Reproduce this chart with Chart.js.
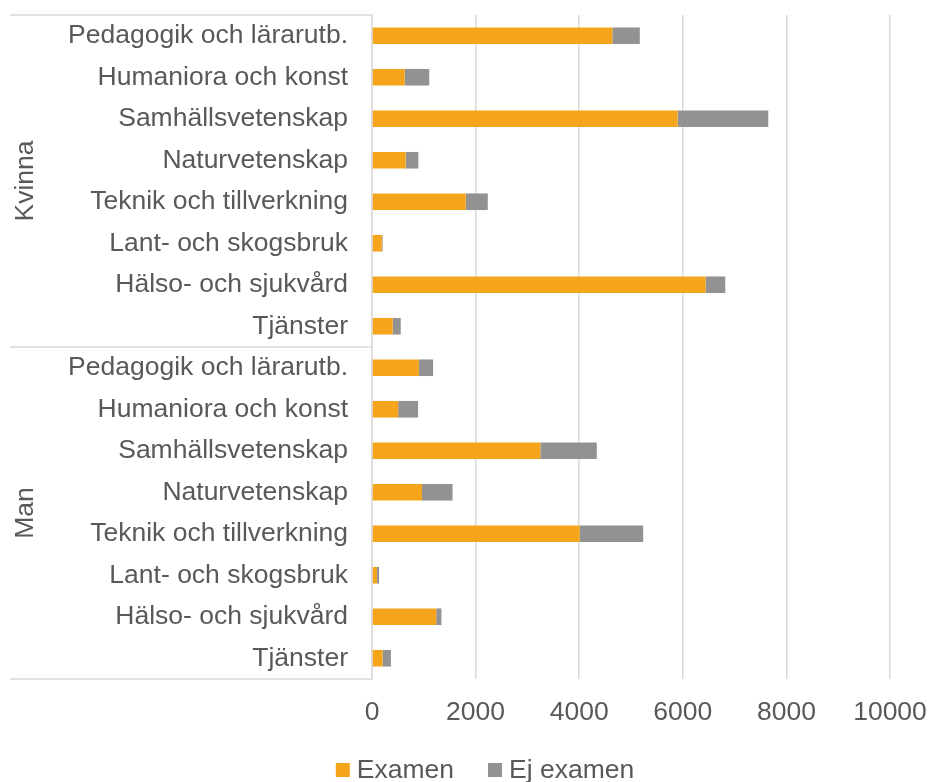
<!DOCTYPE html>
<html>
<head>
<meta charset="utf-8">
<script src="https://cdn.jsdelivr.net/npm/chart.js@4/dist/chart.umd.min.js"></script>
<style>
  html, body { margin: 0; padding: 0; background: #ffffff; }
  #wrap { width: 928px; height: 782px; }
</style>
</head>
<body>
<div id="wrap"><canvas id="c" width="928" height="782"></canvas></div>
<script>
const categories = [
  "Pedagogik och lärarutb.", "Humaniora och konst", "Samhällsvetenskap", "Naturvetenskap",
  "Teknik och tillverkning", "Lant- och skogsbruk", "Hälso- och sjukvård", "Tjänster",
  "Pedagogik och lärarutb.", "Humaniora och konst", "Samhällsvetenskap", "Naturvetenskap",
  "Teknik och tillverkning", "Lant- och skogsbruk", "Hälso- och sjukvård", "Tjänster"
];
const groups = ["Kvinna", "Man"];
const groupSizes = [8, 8];
const examen = [4640, 630, 5900, 650, 1810, 190, 6440, 400,
                905, 505, 3250, 965, 4010, 95, 1240, 205];
const ejExamen = [530, 475, 1750, 245, 425, 15, 380, 155,
                  275, 385, 1090, 590, 1225, 40, 100, 160];
const seriesNames = ["Examen", "Ej examen"];
const xTicks = [0, 2000, 4000, 6000, 8000, 10000];

const textColor = "#595959";
const lineColor = "#d9d9d9";
const fontFamily = "'Liberation Sans', Arial, sans-serif";
const fontSize = 26.5;

const groupPlugin = {
  id: "groupPlugin",
  afterDraw(chart) {
    const ctx = chart.ctx;
    const y = chart.scales.y;
    const area = chart.chartArea;
    const half = (y.getPixelForValue(1) - y.getPixelForValue(0)) / 2;
    ctx.save();
    ctx.strokeStyle = lineColor;
    ctx.lineWidth = 1.5;
    let start = 0;
    const bounds = [y.getPixelForValue(0) - half];
    groupSizes.forEach(n => {
      const end = start + n - 1;
      bounds.push(y.getPixelForValue(end) + half);
      start += n;
    });
    bounds.forEach(b => {
      ctx.beginPath();
      ctx.moveTo(10, b);
      ctx.lineTo(area.left, b);
      ctx.stroke();
    });
    ctx.fillStyle = textColor;
    ctx.font = fontSize + "px " + fontFamily;
    ctx.textAlign = "center";
    ctx.textBaseline = "middle";
    groups.forEach((g, i) => {
      const cy = (bounds[i] + bounds[i + 1]) / 2;
      ctx.save();
      ctx.translate(26, cy);
      ctx.rotate(-Math.PI / 2);
      ctx.fillText(g, 0, 0);
      ctx.restore();
    });
    ctx.restore();
  }
};

const legendPlugin = {
  id: "customLegend",
  afterDraw(chart) {
    const ctx = chart.ctx;
    const box = 14, gapText = 7, gapItem = 34;
    const cy = 770, cx = 485;
    ctx.save();
    ctx.font = fontSize + "px " + fontFamily;
    ctx.textBaseline = "middle";
    ctx.textAlign = "left";
    const items = chart.data.datasets.map(ds => ({
      text: ds.label, color: ds.backgroundColor, w: ctx.measureText(ds.label).width
    }));
    let total = 0;
    items.forEach((it, i) => { total += box + gapText + it.w + (i ? gapItem : 0); });
    let x = cx - total / 2;
    items.forEach((it, i) => {
      if (i) x += gapItem;
      ctx.fillStyle = it.color;
      ctx.fillRect(x, cy - 7, box, box);
      x += box + gapText;
      ctx.fillStyle = textColor;
      ctx.fillText(it.text, x, cy + 1);
      x += it.w;
    });
    ctx.restore();
  }
};

new Chart(document.getElementById("c"), {
  type: "bar",
  data: {
    labels: categories,
    datasets: [
      { label: seriesNames[0], data: examen, backgroundColor: "#F4A51B", borderWidth: 0,
        barPercentage: 0.4, categoryPercentage: 1.0 },
      { label: seriesNames[1], data: ejExamen, backgroundColor: "#929292", borderWidth: 0,
        barPercentage: 0.4, categoryPercentage: 1.0 }
    ]
  },
  options: {
    indexAxis: "y",
    responsive: false,
    animation: false,
    layout: { padding: { top: 15, right: 38, left: 0, bottom: 41 } },
    scales: {
      x: {
        stacked: true,
        min: 0, max: 10000,
        afterBuildTicks(scale) { scale.ticks = xTicks.map(v => ({ value: v })); },
        afterFit(scale) {
          scale.height = 62;
          scale.paddingLeft = 0; scale.paddingRight = 0;
        },
        grid: { color: lineColor, lineWidth: 1.5, drawTicks: false },
        border: { display: false },
        ticks: {
          color: textColor, font: { family: fontFamily, size: fontSize }, padding: 18,
          callback: (v) => String(v)
        }
      },
      y: {
        stacked: true,
        afterFit(scale) {
          scale.width = 372;
          scale.paddingTop = 0; scale.paddingBottom = 0;
        },
        grid: { display: false, drawTicks: false },
        border: { display: true, color: lineColor, width: 1.5 },
        ticks: { color: textColor, font: { family: fontFamily, size: fontSize }, padding: 24, autoSkip: false }
      }
    },
    plugins: {
      legend: { display: false },
      tooltip: { enabled: false }
    }
  },
  plugins: [groupPlugin, legendPlugin]
});
</script>
</body>
</html>
